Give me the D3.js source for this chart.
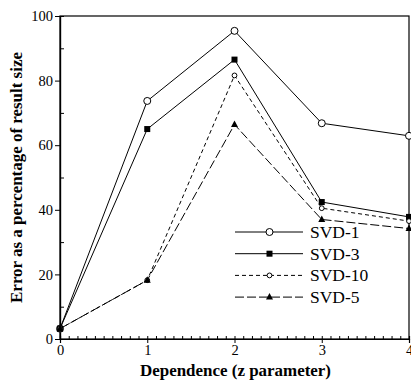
<!DOCTYPE html>
<html>
<head>
<meta charset="utf-8">
<script src="https://cdn.jsdelivr.net/npm/d3@7"></script>
<style>
  body { margin: 0; background: #fff; }
  svg text { font-family: "Liberation Serif", "Times New Roman", Times, "DejaVu Serif", serif; }
</style>
</head>
<body>
<svg id="chart" width="411" height="380"></svg>
<script>
// dependence values on the x axis
const zValues = [0, 1, 2, 3, 4]

// error as % of result size, per method
const svd1  = [3.2, 73.7, 95.4, 66.8, 62.9]
const svd3  = [3.2, 65.0, 86.5, 42.4, 37.8]
const svd10 = [3.2, 18.2, 81.6, 40.5, 36.5]
const svd5  = [3.2, 18.2, 66.4, 37.0, 34.2]

const seriesNames = ["SVD-1", "SVD-3", "SVD-10", "SVD-5"]
const xTicks = [0, 1, 2, 3, 4]
const yTicks = [0, 20, 40, 60, 80, 100]

const series = [
  { name: seriesNames[0], values: svd1,  dash: null,  marker: "circle" },
  { name: seriesNames[1], values: svd3,  dash: null,  marker: "square" },
  { name: seriesNames[2], values: svd10, dash: "4,3", marker: "smallcircle" },
  { name: seriesNames[3], values: svd5,  dash: "9,3", marker: "triangle" }
]

const svg = d3.select("#chart")
const margin = { left: 60, right: 2, top: 16, bottom: 41 }
const width = +svg.attr("width"), height = +svg.attr("height")

const x = d3.scaleLinear().domain([0, 4]).range([margin.left, width - margin.right])
const y = d3.scaleLinear().domain([0, 100]).range([height - margin.bottom, margin.top])

// frame
svg.append("rect")
    .attr("x", x(0)).attr("y", y(100))
    .attr("width", x(4) - x(0)).attr("height", y(0) - y(100))
    .attr("fill", "none").attr("stroke", "#000").attr("stroke-width", 1.2)

// x axis, major ticks out, minor in
const xAxis = svg.append("g").attr("transform", `translate(0,${y(0)})`)
xAxis.call(d3.axisBottom(x).tickValues(xTicks).tickSize(4).tickPadding(2).tickFormat(d3.format("d")))
xAxis.append("g").call(d3.axisTop(x).tickValues(d3.range(0, 40).map(d => d / 10)).tickSize(3).tickFormat(""))
xAxis.selectAll(".domain").attr("stroke-width", 1.2)

// y axis
const yAxis = svg.append("g").attr("transform", `translate(${x(0)},0)`)
yAxis.call(d3.axisLeft(y).tickValues(yTicks).tickSize(5).tickPadding(2))
yAxis.append("g").call(d3.axisRight(y).tickValues([10, 30, 50, 70, 90]).tickSize(4).tickFormat(""))
yAxis.selectAll(".domain").attr("stroke-width", 1.2)

svg.selectAll("g").attr("font-family", null)
svg.selectAll(".tick text")
    .attr("font-size", 14.5)
    .attr("fill", "#000")

// fit a title to the width it has in the original
function fitText(t, target) {
  const len = t.node().getComputedTextLength()
  t.attr("font-size", 16 * target / len)
}

// axis titles
const xTitle = svg.append("text")
    .attr("x", 235.5).attr("y", 376)
    .attr("text-anchor", "middle")
    .attr("font-weight", "bold").attr("font-size", 16)
    .text("Dependence (z parameter)")
fitText(xTitle, 191)

const yTitle = svg.append("text")
    .attr("transform", `translate(21.5,177.5) rotate(-90)`)
    .attr("text-anchor", "middle")
    .attr("font-weight", "bold").attr("font-size", 16)
    .text("Error as a percentage of result size")
fitText(yTitle, 251)

function drawMarker(g, kind, cx, cy) {
  if (kind == "circle")
    g.append("circle").attr("cx", cx).attr("cy", cy).attr("r", 3.5)
      .attr("fill", "#fff").attr("stroke", "#000").attr("stroke-width", 1)
  else if (kind == "smallcircle")
    g.append("circle").attr("cx", cx).attr("cy", cy).attr("r", 2.4)
      .attr("fill", "#fff").attr("stroke", "#000").attr("stroke-width", 1)
  else if (kind == "square")
    g.append("rect").attr("x", cx - 3).attr("y", cy - 3).attr("width", 6).attr("height", 6)
      .attr("fill", "#000")
  else if (kind == "triangle")
    g.append("path").attr("d", `M${cx},${cy - 4}L${cx + 3.5},${cy + 2.5}L${cx - 3.5},${cy + 2.5}Z`)
      .attr("fill", "#000")
}

const line = d3.line()
    .x((d, i) => x(zValues[i]))
    .y(d => y(d))

series.forEach((s) => {
  const g = svg.append("g")
  g.append("path")
      .attr("d", line(s.values))
      .attr("fill", "none").attr("stroke", "#000").attr("stroke-width", 1)
      .attr("stroke-dasharray", s.dash)
  s.values.forEach((v, i) => drawMarker(g, s.marker, x(zValues[i]), y(v)))
})

// legend
const legend = svg.append("g")
series.forEach((s, i) => {
  const ly = 232 + i * 21.7
  legend.append("line")
      .attr("x1", 235).attr("x2", 303).attr("y1", ly).attr("y2", ly)
      .attr("stroke", "#000").attr("stroke-width", 1)
      .attr("stroke-dasharray", s.dash)
  drawMarker(legend, s.marker, 269.5, ly)
  legend.append("text")
      .attr("x", 310).attr("y", ly + 6)
      .attr("font-size", 17.5)
      .text(s.name)
})
</script>
</body>
</html>
